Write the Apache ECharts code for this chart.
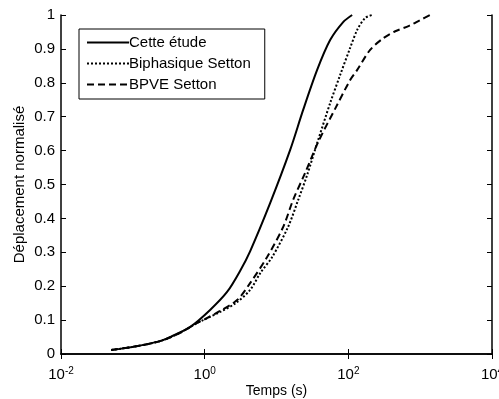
<!DOCTYPE html>
<html>
<head>
<meta charset="utf-8">
<script src="https://cdn.jsdelivr.net/npm/echarts@6/dist/echarts.min.js"></script>
<style>
html,body{margin:0;padding:0;background:#fff;}
#c{width:499px;height:399px;}
</style>
</head>
<body>
<div id="c"></div>
<script>
// Data
const seriesNames = ['Cette étude', 'Biphasique Setton', 'BPVE Setton'];

const etudeT = [0.05, 0.1, 0.24, 0.33, 0.63, 1.19, 2.05, 3.11, 4.29, 8.15, 15.5, 23.5, 36.8, 55.8, 84.7, 113];
const etudeV = [0.012, 0.021, 0.038, 0.050, 0.080, 0.130, 0.183, 0.245, 0.303, 0.445, 0.602, 0.720, 0.838, 0.926, 0.979, 1.0];

const biphT = [0.05, 0.1, 0.24, 0.45, 0.78, 0.95, 1.64, 2.7, 4.29, 6.0, 8.7, 14.5, 20.0, 26.7, 36.8, 55.8, 76.9, 106, 133, 171, 214];
const biphV = [0.012, 0.021, 0.038, 0.062, 0.091, 0.100, 0.124, 0.150, 0.189, 0.240, 0.286, 0.375, 0.454, 0.528, 0.622, 0.740, 0.823, 0.903, 0.956, 0.991, 1.0];

const bpveT = [0.05, 0.1, 0.24, 0.45, 0.78, 0.95, 1.64, 2.83, 4.29, 7.40, 12.4, 17.0, 25.0, 38.0, 67.6, 106, 133, 201, 300, 450, 700, 1000, 1378];
const bpveV = [0.012, 0.021, 0.038, 0.062, 0.091, 0.100, 0.127, 0.159, 0.209, 0.286, 0.375, 0.454, 0.534, 0.625, 0.729, 0.808, 0.838, 0.897, 0.930, 0.952, 0.968, 0.985, 1.0];

const xMin = 0.01, xMax = 10000;
const yMin = 0, yMax = 1, yStep = 0.1;

function pairs(t, v) { return t.map((x, i) => [x, v[i]]); }

const FONT = 'Liberation Sans, Arial, sans-serif';
const chart = echarts.init(document.getElementById('c'), null, {renderer: 'canvas'});

const tickStyle = {show: true, inside: true, length: 5, lineStyle: {color: '#000', width: 1}};
const lineAx = {show: true, lineStyle: {color: '#000', width: 1.5}};

chart.setOption({
  backgroundColor: '#fff',
  animation: false,
  textStyle: {fontFamily: FONT, color: '#000'},
  grid: {left: 61, right: 7, top: 15, bottom: 45, containLabel: false, outerBoundsMode: 'none'},
  legend: {
    orient: 'vertical',
    left: 79, top: 29,
    padding: [6, 14, 7, 7],
    itemGap: 6,
    itemWidth: 42,
    itemHeight: 14,
    borderColor: '#000',
    borderWidth: 1,
    backgroundColor: '#fff',
    itemStyle: {opacity: 0},
    textStyle: {fontFamily: FONT, fontSize: 15, color: '#000', padding: [0, 0, 0, -5]},
    data: seriesNames
  },
  xAxis: [{
    type: 'log', logBase: 10, min: xMin, max: xMax, interval: 2,
    position: 'bottom',
    name: 'Temps (s)', nameLocation: 'middle', nameGap: 30, nameMoveOverlap: false,
    nameTextStyle: {fontFamily: FONT, fontSize: 14, color: '#000'},
    axisLine: lineAx, axisTick: tickStyle, splitLine: {show: false}, minorTick: {show: false},
    axisLabel: {
      margin: 12, color: '#000', fontFamily: FONT, fontSize: 15,
      formatter: function (v) { return '10{sup|' + Math.round(Math.log10(v)) + '}'; },
      rich: {sup: {fontSize: 10, verticalAlign: 'top', padding: [0, 0, 8, 0], fontFamily: FONT, color: '#000'}}
    }
  }, {
    type: 'log', logBase: 10, min: xMin, max: xMax, interval: 2,
    position: 'top',
    axisLine: lineAx, axisTick: tickStyle, axisLabel: {show: false}, splitLine: {show: false}
  }],
  yAxis: [{
    type: 'value', min: yMin, max: yMax, interval: yStep,
    position: 'left',
    name: 'Déplacement normalisé', nameLocation: 'middle', nameGap: 34, nameMoveOverlap: false,
    nameTextStyle: {fontFamily: FONT, fontSize: 15, color: '#000'},
    axisLine: lineAx, axisTick: tickStyle, splitLine: {show: false},
    axisLabel: {margin: 6, color: '#000', fontFamily: FONT, fontSize: 15}
  }, {
    type: 'value', min: yMin, max: yMax, interval: yStep,
    position: 'right',
    axisLine: lineAx, axisTick: tickStyle, axisLabel: {show: false}, splitLine: {show: false}
  }],
  series: [{
    name: seriesNames[0], type: 'line', data: pairs(etudeT, etudeV),
    symbol: 'none', smooth: 0.3,
    lineStyle: {color: '#000', width: 2, type: 'solid'}, itemStyle: {color: '#000'}
  }, {
    name: seriesNames[1], type: 'line', data: pairs(biphT, biphV),
    symbol: 'none', smooth: 0.3,
    lineStyle: {color: '#000', width: 2, type: [2, 2]}, itemStyle: {color: '#000'}
  }, {
    name: seriesNames[2], type: 'line', data: pairs(bpveT, bpveV),
    symbol: 'none', smooth: 0.3,
    lineStyle: {color: '#000', width: 2, type: [7, 4]}, itemStyle: {color: '#000'}
  }]
});
</script>
</body>
</html>
